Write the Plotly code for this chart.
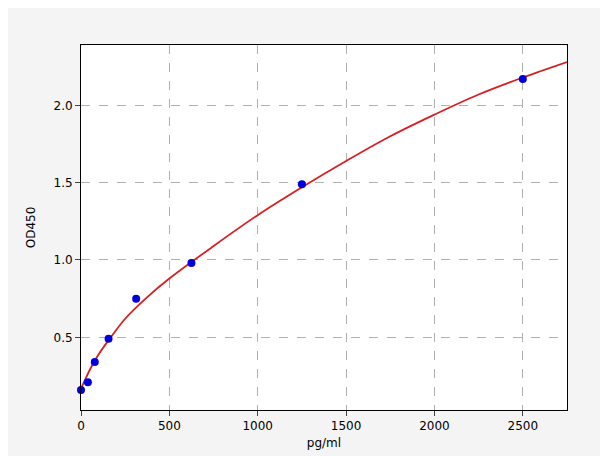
import plotly.graph_objects as go

conc = [0, 39, 78, 156, 312, 625, 1250, 2500]
od = [0.16, 0.21, 0.34, 0.49, 0.75, 0.98, 1.49, 2.17]
curve_x = [0, 25, 50, 100, 175, 250, 375, 500, 750, 1000, 1250, 1500, 1750, 2000, 2250, 2500, 2750]
curve_y = [0.17, 0.23, 0.29, 0.39, 0.51, 0.62, 0.76, 0.88, 1.09, 1.29, 1.47, 1.64, 1.80, 1.94, 2.07, 2.18, 2.28]

fig = go.Figure()
fig.add_trace(go.Scatter(x=curve_x, y=curve_y, mode="lines", line=dict(color="#d62020", width=1.8, shape="spline")))
fig.add_trace(go.Scatter(x=conc, y=od, mode="markers", marker=dict(color="#0000dd", size=8), cliponaxis=False))
ax = dict(showline=True, linecolor="black", mirror=True, ticks="outside", gridcolor="#b0b0b0",
          griddash="dash", zeroline=False, automargin=False, tickfont=dict(size=12, color="black"))
fig.update_layout(width=608, height=456, paper_bgcolor="#f4f4f4", plot_bgcolor="white",
                  showlegend=False, margin=dict(l=73, r=49, t=37, b=54, autoexpand=False),
                  font=dict(family="DejaVu Sans", color="black"),
                  xaxis=dict(ax, range=[0, 2750], dtick=500, title=dict(text="pg/ml", font=dict(size=12), standoff=6)),
                  yaxis=dict(ax, range=[0.03, 2.39], tickvals=[0.5, 1.0, 1.5, 2.0], ticktext=["0.5","1.0","1.5","2.0"],
                             title=dict(text="OD450", font=dict(size=12))))
fig.write_html("out.html")
